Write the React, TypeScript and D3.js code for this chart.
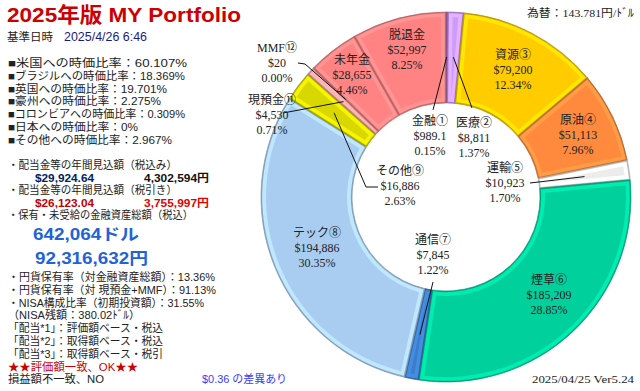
import React from 'react';
import * as d3 from 'd3';

// holdings by sector (USD), clockwise from 12 o'clock
const sectors = ['金融①', '医療②', '資源③', '原油④', '運輸⑤', '煙草⑥', '通信⑦', 'テック⑧', 'その他⑨', '現預金⑪', 'MMF⑫', '未年金', '脱退金'];
const holdings = [989.1, 8811, 79200, 51113, 10923, 185209, 7845, 194886, 16886, 4530, 20, 28655, 52997];

const countryNames = ['米国', 'ブラジル', '英国', '豪州', 'コロンビア', '日本', 'その他'];
const countryRatios = ['60.107%', '18.369%', '19.701%', '2.275%', '0.309%', '0%', '2.967%'];

const dividendGross = ['$29,924.64', '4,302,594円'];
const dividendNet = ['$26,123.04', '3,755,997円'];
const totalAssets = ['642,064ドル', '92,316,632円'];
const ratioLines = [
  '・円貨保有率（対金融資産総額）：13.36%',
  '・円貨保有率（対 現預金+MMF）：91.13%',
  '・NISA構成比率（初期投資額）：31.55%',
  '（NISA残額：380.02ﾄﾞﾙ）',
  '「配当*1」：評価額ベース・税込',
  '「配当*2」：取得額ベース・税込',
  '「配当*3」：取得額ベース・税引',
];
const checkOk = '★★評価額一致、OK★★';
const checkNg = '損益額不一致、NO';
const diffNote = '$0.36 の差異あり';
const fxRate = '為替：143.781円/ﾄﾞﾙ';
const baseDate = '2025/4/26 6:46';
const footer = '2025/04/25  Ver5.24';

// styling / layout
const sliceColors = ['#a070d8', '#cc9cfa', '#ffcc00', '#ff8a3d', '#ececec', '#00d19c', '#3b7dc8', '#a9cdf1', '#d8d800', '#f4a0a0', '#ff8383', '#ff8383', '#ff8383'];
const labelOffsets: [number, number][] = [[-16, -76], [28, -74], [67, -142], [132, -77], [59, -29], [103, 83], [-13, 43], [-129, 36], [-46, -26], [-174, -97], [-169, -149], [-94, -137], [-39, -162]];
const leaderStarts: ([number, number][] | null)[] = [
  [[-13, -87]], [[26, -89]], null, null, [[84, -14]], null, [[-13, 85]], null,
  [[-68, -10], [-80, -10]], [[-163, -84]], [[-148, -134], [-141, -133]], null, null,
];
const countryWidths = [179, 177, 159, 153, 177, 130, 164];
const ratioWidths = [207, 208, 196, 132, 155, 155, 155];

const W = 640;
const H = 391;
const cx = 446;
const cy = 197;
const rOuter = 185;
const rInner = 94;

const jp = "'Liberation Sans', 'Noto Sans CJK JP', sans-serif";
const serif = "'Liberation Serif', 'Noto Sans CJK JP', serif";

const T: React.FC<{ x: number; y: number; w?: number; size?: number; fill?: string; bold?: boolean; font?: string; anchor?: string; children: React.ReactNode }> = ({ x, y, w, size = 11, fill = '#222', bold, font = jp, anchor = 'start', children }) => (
  <text
    x={x}
    y={y}
    fontSize={size}
    fill={fill}
    fontWeight={bold ? 'bold' : 'normal'}
    fontFamily={font}
    textAnchor={anchor}
    dominantBaseline="central"
    textLength={w}
    lengthAdjust={w ? 'spacingAndGlyphs' : undefined}
  >
    {children}
  </text>
);

const fmtAmount = (v: number) => '$' + (v < 1000 && v % 1 !== 0 ? v.toFixed(1) : d3.format(',.0f')(v));

export default function App() {
  const total = d3.sum(holdings);
  const pie = d3.pie<number>().sort(null).value(d => d)(holdings);

  const arcBase = d3.arc<d3.PieArcDatum<number>>().innerRadius(rInner).outerRadius(rOuter);
  const arcHi = d3.arc<d3.PieArcDatum<number>>().innerRadius(rInner + 1.2).outerRadius(rOuter - 1.2).padRadius(100).padAngle(0.024);
  const arcFace = d3.arc<d3.PieArcDatum<number>>().innerRadius(rInner + 5).outerRadius(rOuter - 5).padRadius(100).padAngle(0.1);

  const polar = (a: number, r: number): [number, number] => [cx + r * Math.sin(a), cy - r * Math.cos(a)];

  return (
    <div style={{ position: 'absolute', left: 0, top: 0 }}>
      <svg width={W} height={H} style={{ display: 'block', background: '#fff' }}>
        {/* header */}
        <T x={7} y={14} w={234} size={21} bold fill="#cc0000">2025年版 MY Portfolio</T>
        <T x={7} y={37} w={46}>基準日時</T>
        <T x={64} y={37} w={83} size={12} fill="#1a1a80">{baseDate}</T>
        <T x={527} y={13} w={107} font={serif}>{fxRate}</T>

        {/* country ratios */}
        {countryNames.map((c, i) => (
          <T key={c} x={8} y={63 + i * 12.8} w={countryWidths[i]}>{`■${c}への時価比率：${countryRatios[i]}`}</T>
        ))}

        {/* dividends */}
        <T x={8} y={164.5} w={169}>・配当金等の年間見込額（税込み）</T>
        <T x={35} y={177.5} w={59} bold fill="#002060">{dividendGross[0]}</T>
        <T x={144} y={177.5} w={65} bold fill="#111">{dividendGross[1]}</T>
        <T x={8} y={189.5} w={169}>・配当金等の年間見込額（税引き）</T>
        <T x={35} y={202.5} w={59} bold fill="#c00000">{dividendNet[0]}</T>
        <T x={144} y={202.5} w={65} bold fill="#e00000">{dividendNet[1]}</T>
        <T x={8} y={215} w={185}>・保有・未受給の金融資産総額（税込）</T>
        <T x={33} y={234} w={106} size={16} bold fill="#1f63d6">{totalAssets[0]}</T>
        <T x={35} y={258} w={113} size={16} bold fill="#1f63d6">{totalAssets[1]}</T>

        {ratioLines.map((l, i) => (
          <T key={l} x={8} y={277 + i * 12.8} w={ratioWidths[i]}>{l}</T>
        ))}
        <T x={8} y={366.5} w={130} fill="#cc0000">{checkOk}</T>
        <T x={8} y={379} w={96}>{checkNg}</T>
        <T x={202} y={379} w={85} fill="#3a3aff">{diffNote}</T>
        <T x={532} y={379} w={102} font={serif}>{footer}</T>

        {/* donut */}
        <g transform={`translate(${cx},${cy})`}>
          {pie.map((d, i) => {
            const c = d3.color(sliceColors[i])!;
            return (
              <g key={sectors[i]}>
                <path d={arcBase(d) || ''} fill={c.darker(0.55).formatHex()} stroke={c.darker(1.2).formatHex()} strokeWidth={0.6} />
                <path d={arcHi(d) || ''} fill={c.brighter(0.35).formatHex()} />
                <path d={arcFace(d) || ''} fill={c.formatHex()} />
              </g>
            );
          })}
        </g>

        {/* leader lines */}
        {pie.map((d, i) => {
          const pts = leaderStarts[i];
          if (!pts) return null;
          const end = polar((d.startAngle + d.endAngle) / 2, 140);
          const all = pts.map(p => [cx + p[0], cy + p[1]] as [number, number]).concat([end]);
          return <path key={'l' + i} d={d3.line()(all) || ''} fill="none" stroke="#111" strokeWidth={1} />;
        })}

        {/* slice labels */}
        {pie.map((d, i) => {
          const [dx, dy] = labelOffsets[i];
          const x = cx + dx;
          const y = cy + dy;
          return (
            <g key={'t' + i}>
              <T x={x} y={y} size={12} anchor="middle" font={serif}>{sectors[i]}</T>
              <T x={x} y={y + 15} size={12} anchor="middle" font={serif}>{fmtAmount(holdings[i])}</T>
              <T x={x} y={y + 30} size={12} anchor="middle" font={serif}>{d3.format('.2%')(holdings[i] / total)}</T>
            </g>
          );
        })}
      </svg>
    </div>
  );
}
